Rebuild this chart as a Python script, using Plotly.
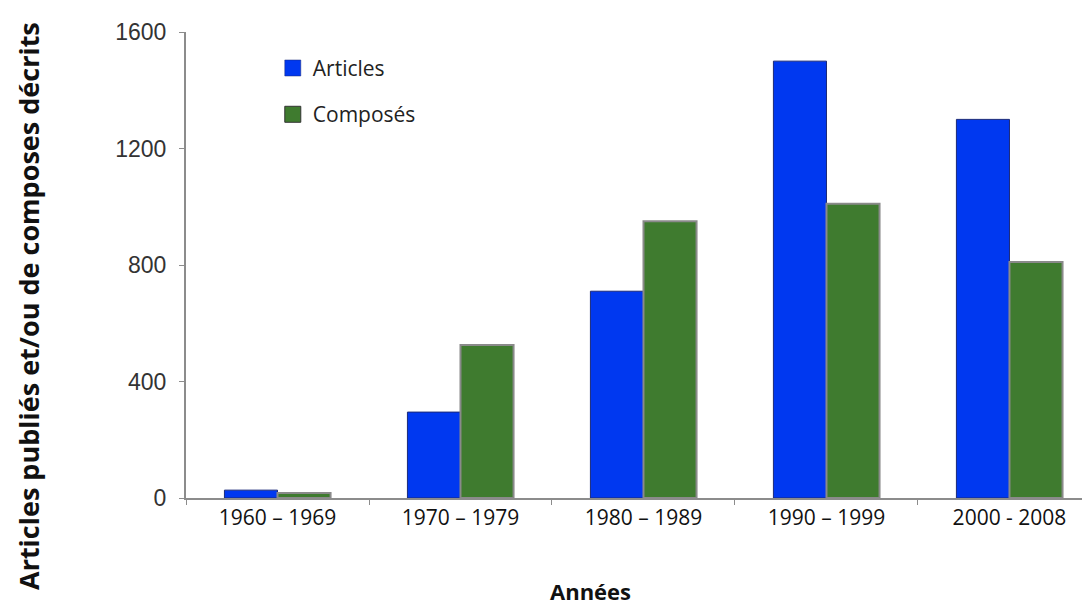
import plotly.graph_objects as go

categories = ["1960 – 1969", "1970 – 1979", "1980 – 1989", "1990 – 1999", "2000 - 2008"]
articles = [27, 295, 710, 1500, 1300]
composes = [17, 525, 950, 1010, 810]
y_ticks = [0, 400, 800, 1200, 1600]

BLUE = "#0038F0"
GREEN = "#3F7B2F"

fig = go.Figure()
fig.add_trace(go.Bar(
    x=categories, y=articles, name="Articles", showlegend=False,
    marker=dict(color=BLUE, line=dict(color="#1B2A78", width=1)),
))
fig.add_trace(go.Bar(
    x=categories, y=composes, name="Composés", showlegend=False,
    marker=dict(color=GREEN, line=dict(color="#8A8A8A", width=2)),
))
# legend entries (larger square swatches)
fig.add_trace(go.Scatter(
    x=[None], y=[None], mode="markers", name="Articles", legendgroup="a",
    marker=dict(symbol="square", size=18, color=BLUE, line=dict(color="#1B2A78", width=0.5)),
))
fig.add_trace(go.Scatter(
    x=[None], y=[None], mode="markers", name="Composés", legendgroup="c",
    marker=dict(symbol="square", size=18, color=GREEN, line=dict(color="#333", width=1)),
))

fig.update_layout(
    width=1082, height=603,
    margin=dict(l=178, r=0, t=24, b=113),
    paper_bgcolor="white", plot_bgcolor="white",
    barmode="group", bargap=0.42, bargroupgap=0,
    showlegend=True,
    legend=dict(x=0.096, y=0.966, xanchor="left", yanchor="top",
                font=dict(family="Open Sans", size=21, color="#222"),
                tracegroupgap=16, bgcolor="rgba(0,0,0,0)",
                itemwidth=30),
    xaxis=dict(
        type="category", range=[-0.5, 4.44],
        showline=True, linecolor="#8C8C8C", linewidth=2,
        ticks="outside", tickson="boundaries", ticklen=5, tickcolor="#8C8C8C",
        tickfont=dict(family="Open Sans", size=21, color="#111"),
        showgrid=False, zeroline=False,
    ),
    yaxis=dict(
        range=[0, 1600], tickvals=y_ticks,
        showline=True, linecolor="#8C8C8C", linewidth=2,
        ticks="outside", ticklen=5, tickcolor="#8C8C8C",
        tickfont=dict(family="Liberation Sans", size=23, color="#333"),
        ticklabelstandoff=8,
        showgrid=False, zeroline=False,
    ),
    annotations=[
        dict(text="<b>Années</b>", xref="paper", yref="paper",
             x=0.448, y=-0.2, xanchor="center", yanchor="middle", showarrow=False,
             font=dict(family="Open Sans", size=22, color="#111")),
        dict(text="<b>Articles publiés et/ou de composes décrits</b>", xref="paper", yref="paper",
             x=-0.1748, y=0.412, xanchor="center", yanchor="middle", showarrow=False,
             textangle=-90, font=dict(family="Open Sans", size=27, color="#111")),
    ],
)

fig.write_html("out.html")
